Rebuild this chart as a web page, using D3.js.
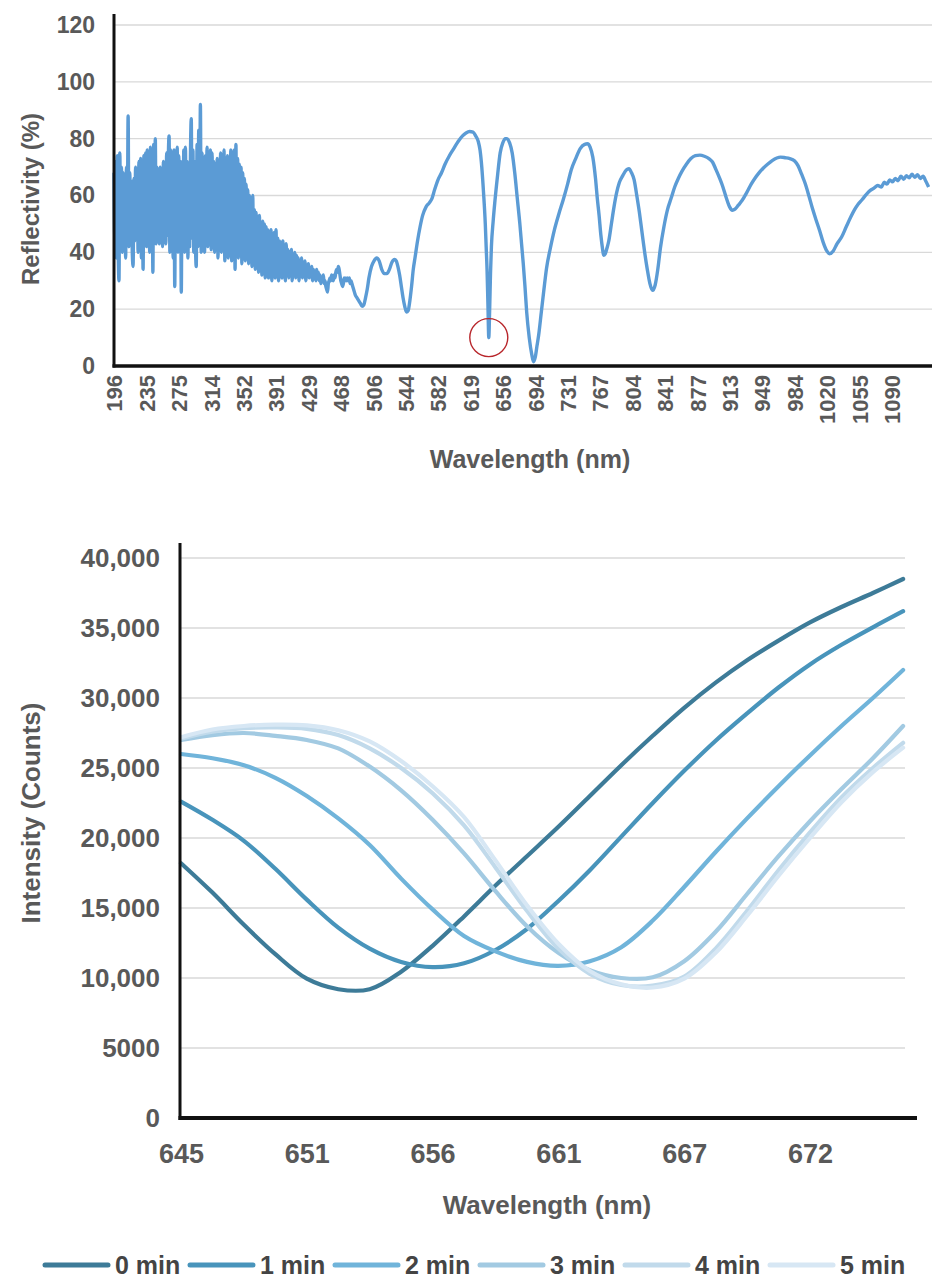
<!DOCTYPE html>
<html>
<head>
<meta charset="utf-8">
<script src="https://cdn.jsdelivr.net/npm/d3@7"></script>
<style>
  body { margin: 0; background: #fff; }
  svg { display: block; font-family: Arial, "Liberation Sans", sans-serif; font-weight: bold; }
</style>
</head>
<body>
<svg id="chart" width="934" height="1279"></svg>
<script>
// ---- top chart: reflectivity spectrum ----
const reflTicks = [196, 235, 275, 314, 352, 391, 429, 468, 506, 544, 582, 619, 656, 694, 731, 767, 804, 841, 877, 913, 949, 984, 1020, 1055, 1090]
const reflYTicks = [0, 20, 40, 60, 80, 100, 120]

// noisy UV part [nm, %]
const reflNoisy = [
  [196,68],[197,45],[198,72],[199,38],[200,74],[201,42],[202,30],[203,75],[204,45],[205,70],
  [206,40],[207,68],[208,44],[209,66],[210,38],[211,70],[212,48],[213,88],[214,42],[215,68],
  [216,46],[217,65],[218,40],[219,35],[220,66],[221,44],[222,70],[223,46],[224,68],[225,40],
  [226,72],[227,45],[228,73],[229,38],[230,70],[231,34],[232,74],[233,44],[234,75],[235,42],
  [236,76],[237,47],[238,72],[239,40],[240,77],[241,44],[242,74],[243,33],[244,78],[245,45],
  [246,80],[247,43],[248,70],[249,46],[250,65],[251,43],[252,70],[253,44],[254,64],[255,42],
  [256,72],[257,45],[258,70],[259,43],[260,75],[261,46],[262,72],[263,81],[264,40],[265,76],
  [266,44],[267,70],[268,38],[269,76],[270,28],[271,72],[272,45],[273,77],[274,40],[275,74],
  [276,44],[277,72],[278,26],[279,70],[280,42],[281,76],[282,40],[283,77],[284,44],[285,72],
  [286,38],[287,70],[288,42],[289,74],[290,87],[291,45],[292,76],[293,40],[294,72],[295,44],
  [296,35],[297,78],[298,42],[299,83],[300,45],[301,92],[302,40],[303,75],[304,44],[305,72],
  [306,40],[307,74],[308,45],[309,77],[310,42],[311,73],[312,46],[313,76],[314,41],[315,75],
  [316,43],[317,72],[318,40],[319,70],[320,44],[321,73],[322,38],[323,71],[324,42],[325,75],
  [326,40],[327,70],[328,44],[329,76],[330,37],[331,72],[332,42],[333,74],[334,38],[335,71],
  [336,40],[337,76],[338,37],[339,73],[340,41],[341,76],[342,34],[343,78],[344,40],[345,73],
  [346,38],[347,71],[348,40],[349,70],[350,36],[351,68],[352,40],[353,66],[354,37],[355,64],
  [356,39],[357,62],[358,36],[359,60],[360,38],[361,58],[362,35],[363,60],[364,37],[365,55],
  [366,34],[367,54],[368,36],[369,52],[370,33],[371,53],[372,35],[373,50],[374,32],[375,51],
  [376,34],[377,50],[378,31],[379,49],[380,33],[381,48],[382,31],[383,47],[384,34],[385,48],
  [386,30],[387,46],[388,33],[389,47],[390,31],[391,48],[392,32],[393,45],[394,30],[395,44],
  [396,33],[397,43],[398,31],[399,44],[400,32],[401,42],[402,30],[403,43],[404,33],[405,41],
  [406,31],[407,40],[408,32],[409,41],[410,30],[411,39],[412,33],[413,40],[414,31],[415,39],
  [416,32],[417,38],[418,30],[419,37],[420,33],[421,38],[422,31],[423,36],[424,32],[425,37],
  [426,30],[427,35],[428,32],[429,36],[430,31],[431,34],[432,32],[433,35],[434,30],[435,34],
  [436,32],[437,33],[438,30],[439,34],[440,31],[441,33],[442,30],[443,32],[444,29],[445,31],
  [446,30],[447,32],[448,29],[449,30],[450,28],[451,27],[452,26],[453,29],[454,30],[455,31],
  [456,30],[457,32],[458,31],[459,30],[460,32],[461,31],[462,33],[463,34],[464,33],[465,35],
  [466,34],[467,32],[468,30],[469,29],[470,28],[471,29],[472,31],[473,30],[474,31],[475,30],
  [476,31],[477,30],[478,31],[479,29],[480,30],[481,29],[482,28],[483,27],[484,26],[485,25]
]

// smooth visible / NIR part [nm, %]
const reflSmooth = [
  [487,24],[489,23],[491,22],[493,21],[495,21.5],[497,24],[499,27],[501,31],[504,35],[507,37],
  [510,38],[513,37],[516,34],[519,32.5],[522,32.5],[525,34],[528,36.5],[531,37.5],[533,37],[535,35],
  [537,32],[539,28],[541,24],[543,21],[545,19],[547,19.5],[549,23],[551,28],[553,34],[555,38],
  [558,44],[561,49],[564,53],[568,56],[572,57.5],[575,59],[578,62],[582,65.5],[586,68],[590,71],
  [595,74],[600,76.5],[605,79],[610,81],[614,82],[618,82.5],[622,82.3],[625,81],[628,79],[630,76],
  [632,70],[634,61],[636,50],[637,42],[638,34],[639,22],[640,10],[641,20],[642,33],[643,42],
  [645,51],[647,58],[650,67],[653,75],[656,78.5],[659,80],[661,80],[664,78.5],[667,75],[670,68],
  [673,59],[676,50],[678,43],[680,36],[682,28],[684,19],[687,10],[690,4],[692,1.5],[694,3],
  [696,7],[698,11],[701,19],[704,27],[707,34.5],[711,41],[716,48],[721,53.5],[726,58.5],[731,64],
  [735,69],[740,73],[745,76.5],[750,78],[753,78.2],[756,77],[759,73.5],[762,66],[764,59],[766,53],
  [768,46],[770,41],[771,39],[773,39.5],[775,41.5],[777,44],[780,50],[783,56],[786,61],[789,64.5],
  [793,67],[797,69],[800,69.4],[803,68],[806,65.5],[809,60],[812,54],[815,47],[818,40],[821,34],
  [824,29],[827,26.6],[830,28.5],[833,34],[836,41.5],[840,49],[844,55],[848,59],[852,63],[856,66],
  [860,68.5],[865,71],[870,73],[875,74],[880,74.2],[885,73.8],[890,73],[894,71.8],[898,69],[902,66],
  [905,63.5],[909,59.5],[913,56],[916,54.8],[919,55.2],[923,56.7],[927,58.3],[932,61],[937,64],[941,66],
  [945,67.7],[950,69.5],[955,71],[960,72.3],[965,73.2],[969,73.5],[974,73.3],[979,73],[984,72.2],[988,70.5],
  [992,67.5],[996,64.2],[1000,60],[1004,55.5],[1008,51.5],[1012,47.7],[1016,43.5],[1020,40.5],[1023,39.5],[1027,40.5],
  [1031,43],[1036,45.4],[1041,49],[1046,52.5],[1050,55],[1054,57],[1058,58.5],[1063,60.5],[1067,61.8],[1071,62.6],
  [1075,63.5],[1079,63],[1082,64.7],[1085,64],[1088,65.5],[1091,64.8],[1094,66],[1097,65.2],[1100,66.8],[1103,65.7],
  [1106,67],[1109,66.2],[1112,67.5],[1115,66.4],[1118,67.3],[1121,66],[1124,66.8],[1127,65],[1130,63]
]

const reflHighlight = [640, 10]

// ---- bottom chart: intensity vs time ----
const intensityTicksX = [645, 651, 656, 661, 667, 672]
const intensityTicksY = [0, 5000, 10000, 15000, 20000, 25000, 30000, 35000, 40000]
const intensityWl = [645, 646.5, 648, 649.5, 651, 652.25, 653.5, 654.75, 656, 657.25, 658.5, 659.75,
                     661, 662.5, 664, 665.5, 667, 668.25, 669.5, 670.75, 672, 673.25, 674.5, 675.7]
const timeLabels = ['0 min', '1 min', '2 min', '3 min', '4 min', '5 min']
const min0 = [18200, 16100, 13800, 11700, 9950, 9200, 9200, 10450, 12300, 14400, 16600, 18700,
              20800, 23000, 25200, 27300, 29300, 31100, 32700, 34100, 35400, 36500, 37500, 38500]
const min1 = [22600, 21300, 19800, 17800, 15600, 13600, 12100, 11150, 10780, 11050, 12000, 13500,
              15500, 17700, 20100, 22500, 24800, 26950, 28900, 30750, 32400, 33800, 35050, 36200]
const min2 = [26000, 25700, 25200, 24300, 23000, 21400, 19500, 17100, 14900, 13000, 11900, 11150,
              10870, 11200, 12200, 14100, 16500, 19000, 21400, 23700, 25900, 28000, 30000, 32000]
const min3 = [27000, 27350, 27500, 27300, 27000, 26400, 25100, 23400, 21300, 18900, 16200, 13700,
              11800, 10550, 10000, 10050, 11200, 13300, 16000, 18700, 21200, 23500, 25700, 28000]
const min4 = [27100, 27600, 27850, 27900, 27800, 27350, 26400, 25000, 23200, 20900, 17900, 14800,
              12100, 10300, 9500, 9450, 10100, 12100, 14800, 17700, 20400, 22900, 25000, 26800]
const min5 = [27200, 27750, 28000, 28100, 28050, 27700, 26900, 25500, 23700, 21500, 18400, 15200,
              12450, 10500, 9550, 9320, 9950, 11800, 14450, 17300, 20000, 22550, 24700, 26450]
const timeColors = ['#3d7b98', '#4894bb', '#70b4da', '#a2cae2', '#c1daeb', '#d7e7f4']

const svg = d3.select('#chart')
const tickGrey = '#595959'

// ---------- top ----------
const topBox = { left: 114, right: 932, y0: 366, y1: 25, step: 32.4 }
const xTop = d3.scaleLinear()
  .domain(reflTicks)
  .range(reflTicks.map((d, i) => topBox.left + i * topBox.step))
const yTop = d3.scaleLinear().domain([0, 120]).range([topBox.y0, topBox.y1])

svg.append('g')
  .selectAll('line')
  .data(reflYTicks.filter(d => d > 0))
  .join('line')
    .attr('x1', topBox.left).attr('x2', topBox.right)
    .attr('y1', d => yTop(d)).attr('y2', d => yTop(d))
    .attr('stroke', '#d9d9d9').attr('stroke-width', 1.3)

const lineTop = d3.line()
  .x(d => xTop(d[0]))
  .y(d => yTop(d[1]))
  .curve(d3.curveMonotoneX)

svg.append('path')
  .attr('d', lineTop(reflNoisy.concat(reflSmooth)))
  .attr('fill', 'none')
  .attr('stroke', '#5b9bd5')
  .attr('stroke-width', 3.4)
  .attr('stroke-linejoin', 'round')

svg.append('circle')
  .attr('cx', xTop(reflHighlight[0]))
  .attr('cy', yTop(reflHighlight[1]))
  .attr('r', 19)
  .attr('fill', 'none')
  .attr('stroke', '#b8262b')
  .attr('stroke-width', 1.4)

const axisYTop = svg.append('g')
  .attr('transform', `translate(${topBox.left},0)`)
  .call(d3.axisLeft(yTop).tickValues(reflYTicks).tickSize(0).tickPadding(19))
axisYTop.select('.domain').remove()
axisYTop.selectAll('text').attr('font-size', 23).attr('fill', tickGrey).attr('font-family', null)

const axisXTop = svg.append('g')
  .attr('transform', `translate(0,${topBox.y0})`)
  .call(d3.axisBottom(xTop).tickValues(reflTicks).tickSize(0).tickFormat(d3.format('d')))
axisXTop.select('.domain').remove()
axisXTop.selectAll('text')
  .attr('font-size', 22).attr('fill', tickGrey).attr('font-family', null)
  .attr('text-anchor', 'end')
  .attr('transform', 'rotate(-90)')
  .attr('x', -9).attr('y', 0).attr('dy', '0.36em')

svg.append('line')
  .attr('x1', topBox.left).attr('x2', topBox.left).attr('y1', 14).attr('y2', topBox.y0 + 1.5)
  .attr('stroke', '#111').attr('stroke-width', 3)
svg.append('line')
  .attr('x1', topBox.left - 1.5).attr('x2', topBox.right).attr('y1', topBox.y0).attr('y2', topBox.y0)
  .attr('stroke', '#111').attr('stroke-width', 3.5)

svg.append('text')
  .attr('x', 530).attr('y', 468)
  .attr('text-anchor', 'middle').attr('font-size', 25).attr('fill', tickGrey)
  .text('Wavelength (nm)')
svg.append('text')
  .attr('transform', 'translate(39,199) rotate(-90)')
  .attr('text-anchor', 'middle').attr('font-size', 24).attr('fill', tickGrey)
  .text('Reflectivity (%)')

// ---------- bottom ----------
const botBox = { left: 181, gridRight: 905, axisRight: 917, y0: 1118, y1: 558, step: 125.8 }
const xBot = d3.scaleLinear()
  .domain(intensityTicksX)
  .range(intensityTicksX.map((d, i) => botBox.left + i * botBox.step))
const yBot = d3.scaleLinear().domain([0, 40000]).range([botBox.y0, botBox.y1])

svg.append('g')
  .selectAll('line')
  .data(intensityTicksY.filter(d => d > 0))
  .join('line')
    .attr('x1', botBox.left).attr('x2', botBox.gridRight)
    .attr('y1', d => yBot(d)).attr('y2', d => yBot(d))
    .attr('stroke', '#d9d9d9').attr('stroke-width', 1.3)

const series = [min0, min1, min2, min3, min4, min5].map((vals, i) => ({
  name: timeLabels[i],
  color: timeColors[i],
  points: vals.map((v, j) => [intensityWl[j], v])
}))

const lineBot = d3.line()
  .x(d => xBot(d[0]))
  .y(d => yBot(d[1]))
  .curve(d3.curveCatmullRom.alpha(0.5))

svg.append('g')
  .selectAll('path')
  .data(series)
  .join('path')
    .attr('d', d => lineBot(d.points))
    .attr('fill', 'none')
    .attr('stroke', d => d.color)
    .attr('stroke-width', 4.2)
    .attr('stroke-linecap', 'round')

const fmtY = d => d >= 10000 ? d3.format(',')(d) : String(d)
const axisYBot = svg.append('g')
  .attr('transform', `translate(${botBox.left - 1},0)`)
  .call(d3.axisLeft(yBot).tickValues(intensityTicksY).tickSize(0).tickPadding(20).tickFormat(fmtY))
axisYBot.select('.domain').remove()
axisYBot.selectAll('text').attr('font-size', 26).attr('fill', tickGrey).attr('font-family', null)

const axisXBot = svg.append('g')
  .attr('transform', `translate(0,${botBox.y0})`)
  .call(d3.axisBottom(xBot).tickValues(intensityTicksX).tickSize(0).tickPadding(0).tickFormat(d3.format('d')))
axisXBot.select('.domain').remove()
axisXBot.selectAll('text')
  .attr('font-size', 27).attr('fill', tickGrey).attr('font-family', null)
  .attr('y', 45).attr('dy', 0)

svg.append('line')
  .attr('x1', botBox.left - 1).attr('x2', botBox.left - 1).attr('y1', 543).attr('y2', botBox.y0 + 2)
  .attr('stroke', '#111').attr('stroke-width', 3)
svg.append('line')
  .attr('x1', botBox.left - 2.5).attr('x2', botBox.axisRight).attr('y1', botBox.y0).attr('y2', botBox.y0)
  .attr('stroke', '#111').attr('stroke-width', 4)

svg.append('text')
  .attr('x', 547).attr('y', 1214)
  .attr('text-anchor', 'middle').attr('font-size', 26).attr('fill', tickGrey)
  .text('Wavelength (nm)')
svg.append('text')
  .attr('transform', 'translate(40,813) rotate(-90)')
  .attr('text-anchor', 'middle').attr('font-size', 26).attr('fill', tickGrey)
  .text('Intensity (Counts)')

// legend
const legend = { x: 45, y: 1265, stride: 145, lineLen: 63, gap: 7 }
const items = svg.append('g')
  .selectAll('g')
  .data(series)
  .join('g')
    .attr('transform', (d, i) => `translate(${legend.x + i * legend.stride},${legend.y})`)
items.append('line')
  .attr('x1', 0).attr('x2', legend.lineLen)
  .attr('stroke', d => d.color).attr('stroke-width', 5).attr('stroke-linecap', 'round')
items.append('text')
  .attr('x', legend.lineLen + legend.gap).attr('dy', '0.36em')
  .attr('font-size', 25).attr('fill', '#444')
  .text(d => d.name)
</script>
</body>
</html>
